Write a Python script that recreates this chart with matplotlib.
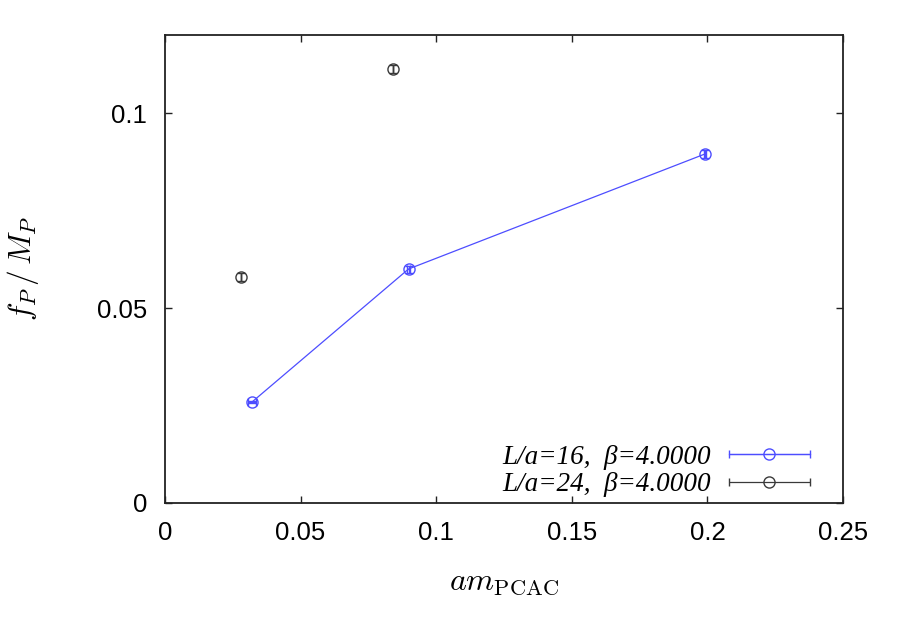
import numpy as np
import matplotlib
matplotlib.use("Agg")
import matplotlib.pyplot as plt
from matplotlib.legend_handler import HandlerErrorbar

plt.rcParams['mathtext.fontset'] = 'cm'
plt.rcParams['font.family'] = ['Liberation Sans', 'DejaVu Sans']

# L/a=16, beta=4.0000 (joined)
x16 = [0.0321, 0.0898, 0.1991]
y16 = [0.0259, 0.0600, 0.0895]
x16err = [0.0016, 0.0004, 0.0002]
y16err = [0.0002, 0.0009, 0.0010]

# L/a=24, beta=4.0000 (points only)
x24 = [0.0281, 0.0841]
y24 = [0.0580, 0.1112]
x24err = [0.0, 0.0]
y24err = [0.0010, 0.0010]

labels = ['L/a=16,  \u03b2=4.0000', 'L/a=24,  \u03b2=4.0000']
blue = '#4d4dff'
grey = '#3a3a3a'

fig = plt.figure(figsize=(9, 6.3), dpi=100)
ax = fig.add_axes([0.1833, 0.2016, 0.7534, 0.7428])

ax.errorbar(x16, y16, xerr=x16err, yerr=y16err, color=blue, marker='o',
            mfc='none', ms=8, mew=1.0, lw=0.9, elinewidth=0.9, capsize=2.8)
ax.errorbar(x24, y24, xerr=x24err, yerr=y24err, color=grey, marker='o',
            mfc='none', ms=8, mew=1.0, ls='none', elinewidth=0.9, capsize=2.8)

# legend proxies: horizontal error bar sample like gnuplot
p16 = ax.errorbar([np.nan], [np.nan], xerr=[1], color=blue, marker='o', mfc='none',
                  ms=8, mew=1.0, lw=0.9, elinewidth=0.9, capsize=3)
p24 = ax.errorbar([np.nan], [np.nan], xerr=[1], color=grey, marker='o', mfc='none',
                  ms=8, mew=1.0, ls='none', elinewidth=0.9, capsize=3)

hl = 3.0
leg = ax.legend([p16, p24], labels, loc='lower right', frameon=False,
                bbox_to_anchor=(0.951, 0.012), borderaxespad=0, borderpad=0,
                markerfirst=False, handlelength=hl, handletextpad=0.65,
                labelspacing=0.1, numpoints=1,
                handler_map={type(p16): HandlerErrorbar(xerr_size=hl / 2)},
                prop={'family': 'Liberation Serif', 'style': 'italic', 'size': 19.5})

ax.set_xlim(0, 0.25)
ax.set_ylim(0, 0.12)
ax.set_xticks([0, 0.05, 0.1, 0.15, 0.2, 0.25])
ax.set_xticklabels(['0', '0.05', '0.1', '0.15', '0.2', '0.25'])
ax.set_yticks([0, 0.05, 0.1])
ax.set_yticklabels(['0', '0.05', '0.1'])
ax.tick_params(direction='in', length=5, width=1.0, labelsize=18.5, pad=13,
               top=True, right=True, color='#222222')
for s in ax.spines.values():
    s.set_linewidth(1.3)
    s.set_color('#222222')

ax.set_xlabel(r'$am_{\rm PCAC}$', fontsize=23, labelpad=16)
ax.set_ylabel(r'$f_P\,/\,M_P$', fontsize=22.5, labelpad=40)

fig.savefig('out.png', dpi=100)
